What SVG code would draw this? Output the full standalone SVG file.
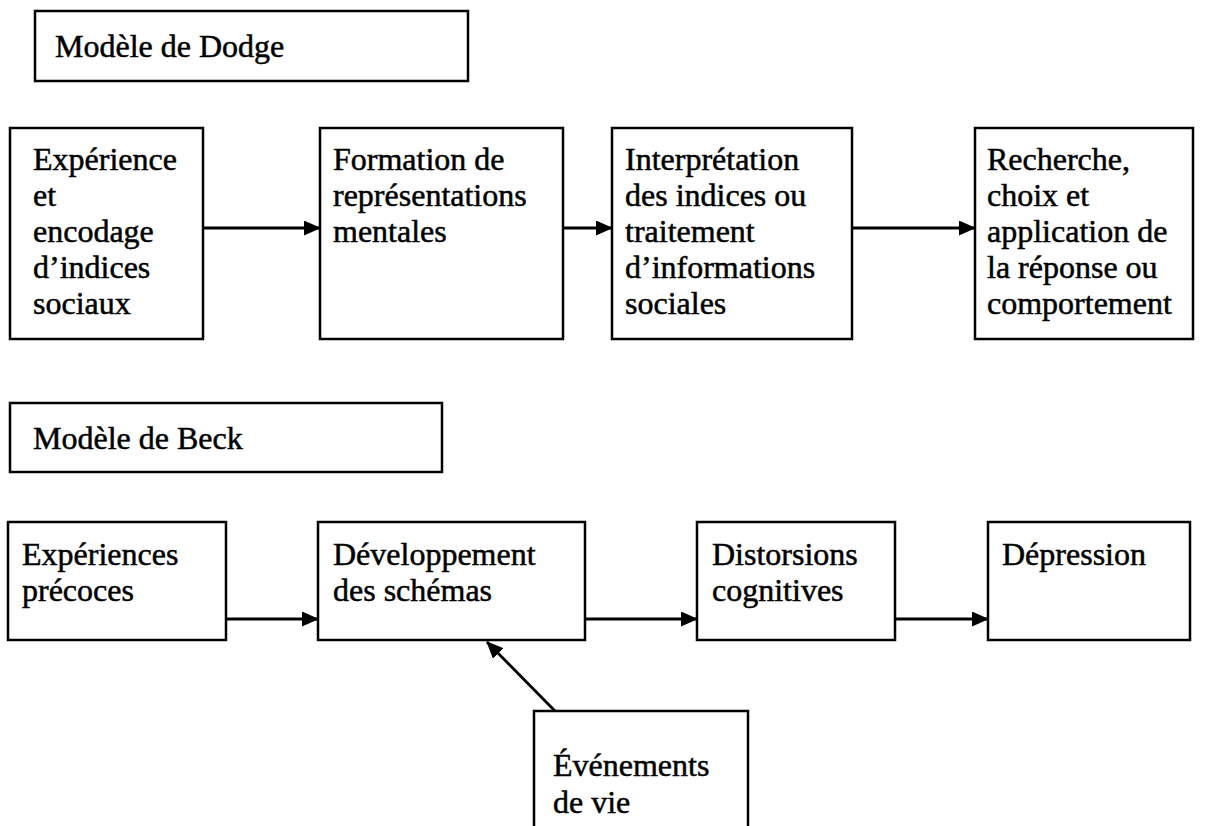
<svg xmlns="http://www.w3.org/2000/svg" width="1214" height="826" viewBox="0 0 1214 826">
<style>
.box{fill:#fff;stroke:#000;stroke-width:2.5}
.t{font-family:"Liberation Serif","Times New Roman",serif;font-size:32px;fill:#000;stroke:#000;stroke-width:0.5}
.c{stroke:#000;stroke-width:2.8;fill:none}
</style>
<defs>
<marker id="ah" markerWidth="17" markerHeight="15" refX="16" refY="7.5" orient="auto" markerUnits="userSpaceOnUse">
<path d="M0,0 L17,7.5 L0,15 Z" fill="#000"/>
</marker>
</defs>
<rect width="1214" height="826" fill="#fff"/>
<g id="dodge-title"><rect class="box" x="35" y="11" width="433" height="70"/><text class="t" x="55" y="57">Modèle de Dodge</text></g>
<g id="d1"><rect class="box" x="10" y="128" width="193" height="211"/>
<text class="t"><tspan x="33" y="170">Expérience</tspan><tspan x="33" y="206">et</tspan><tspan x="33" y="242">encodage</tspan><tspan x="33" y="278">d’indices</tspan><tspan x="33" y="314">sociaux</tspan></text></g>
<g id="d2"><rect class="box" x="320" y="128" width="243" height="211"/>
<text class="t"><tspan x="333" y="170">Formation de</tspan><tspan x="333" y="206">représentations</tspan><tspan x="333" y="242">mentales</tspan></text></g>
<g id="d3"><rect class="box" x="612" y="128" width="240" height="211"/>
<text class="t"><tspan x="625" y="170">Interprétation</tspan><tspan x="625" y="206">des indices ou</tspan><tspan x="625" y="242">traitement</tspan><tspan x="625" y="278">d’informations</tspan><tspan x="625" y="314">sociales</tspan></text></g>
<g id="d4"><rect class="box" x="975" y="128" width="218" height="211"/>
<text class="t"><tspan x="987" y="170">Recherche,</tspan><tspan x="987" y="206">choix et</tspan><tspan x="987" y="242">application de</tspan><tspan x="987" y="278">la réponse ou</tspan><tspan x="987" y="314">comportement</tspan></text></g>
<g id="beck-title"><rect class="box" x="10" y="403" width="432" height="69"/><text class="t" x="33" y="449">Modèle de Beck</text></g>
<g id="b1"><rect class="box" x="8" y="522" width="218" height="118"/>
<text class="t"><tspan x="22" y="565">Expériences</tspan><tspan x="22" y="601">précoces</tspan></text></g>
<g id="b2"><rect class="box" x="318" y="522" width="267" height="118"/>
<text class="t"><tspan x="333" y="565">Développement</tspan><tspan x="333" y="601">des schémas</tspan></text></g>
<g id="b3"><rect class="box" x="697" y="522" width="198" height="118"/>
<text class="t"><tspan x="712" y="565">Distorsions</tspan><tspan x="712" y="601">cognitives</tspan></text></g>
<g id="b4"><rect class="box" x="988" y="522" width="202" height="118"/>
<text class="t"><tspan x="1002" y="565">Dépression</tspan></text></g>
<g id="b5"><rect class="box" x="534" y="711" width="214" height="130"/>
<text class="t"><tspan x="553" y="776">Événements</tspan><tspan x="553" y="813">de vie</tspan></text></g>
<g id="connectors">
<line class="c" x1="203" y1="228" x2="320" y2="228" marker-end="url(#ah)"/>
<line class="c" x1="563" y1="228" x2="612" y2="228" marker-end="url(#ah)"/>
<line class="c" x1="852" y1="228" x2="975" y2="228" marker-end="url(#ah)"/>
<line class="c" x1="226" y1="619" x2="318" y2="619" marker-end="url(#ah)"/>
<line class="c" x1="585" y1="619" x2="697" y2="619" marker-end="url(#ah)"/>
<line class="c" x1="895" y1="619" x2="988" y2="619" marker-end="url(#ah)"/>
<line class="c" x1="555" y1="711" x2="487" y2="642" marker-end="url(#ah)"/>
</g>
</svg>
